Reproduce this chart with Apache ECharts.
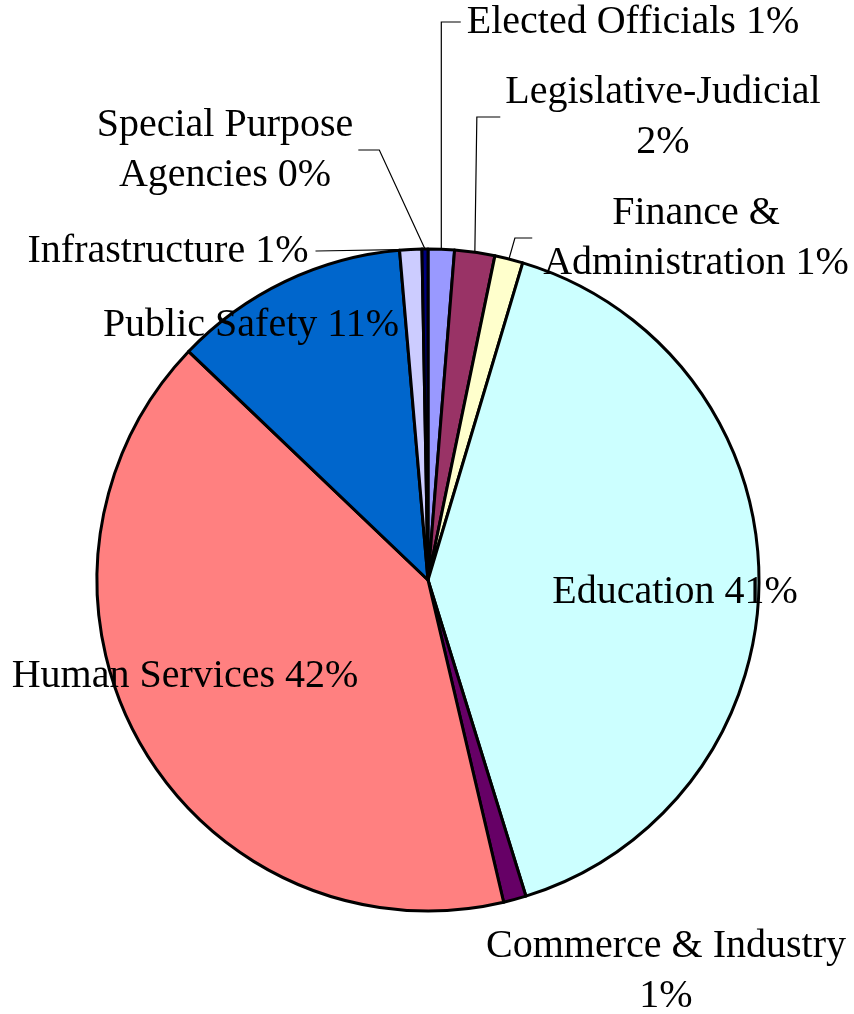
<!DOCTYPE html>
<html>
<head>
<meta charset="utf-8">
<script src="https://cdn.jsdelivr.net/npm/echarts@6/dist/echarts.min.js"></script>
<style>
html,body{margin:0;padding:0;background:#fff;}
#chart{width:854px;height:1014px;}
</style>
</head>
<body>
<div id="chart"></div>
<script>
// ---- data ----
const categories = [
  'Elected Officials', 'Legislative-Judicial', 'Finance &\nAdministration', 'Education',
  'Commerce & Industry', 'Human Services', 'Public Safety', 'Infrastructure',
  'Special Purpose\nAgencies'
];
const shares = [1.28, 1.96, 1.38, 40.6, 1.11, 40.8, 11.5, 1.08, 0.29];
const printedPercents = ['1%', '2%', '1%', '41%', '1%', '42%', '11%', '1%', '0%'];
const labelBreaks = [' ', '\n', ' ', ' ', '\n', ' ', ' ', ' ', ' '];
const colors = ['#9999FF', '#993366', '#FFFFCC', '#CCFFFF', '#660066', '#FF8080', '#0066CC', '#CCCCFF', '#000080'];

// ---- label placement (layout, not data) ----
const labelSpots = [
  {x: 633, y: 22,  line: 'right', elbowDx: 0,  gap: 6},
  {x: 663, y: 117, line: 'right', elbowDx: 2,  gap: 5},
  {x: 696, y: 238, line: 'right', elbowDx: 6,  gap: 11},
  {x: 675, y: 592, line: null},
  {x: 666, y: 971, line: null},
  {x: 185, y: 676, line: null},
  {x: 251, y: 325, line: null},
  {x: 168, y: 251, line: 'flatLeft', gap: 7},
  {x: 225, y: 150, line: 'left', elbowOut: 26, gap: 5}
];

const chart = echarts.init(document.getElementById('chart'), null, {renderer: 'canvas'});

const data = categories.map((c, i) => ({
  name: c,
  value: shares[i],
  itemStyle: {color: colors[i]},
  labelLine: {show: !!labelSpots[i].line}
}));

chart.setOption({
  animation: false,
  backgroundColor: '#ffffff',
  series: [{
    type: 'pie',
    center: [428, 580],
    radius: 331,
    startAngle: 90,
    clockwise: true,
    avoidLabelOverlap: false,
    itemStyle: {borderColor: '#000', borderWidth: 3},
    label: {
      show: true,
      position: 'outside',
      fontFamily: 'Liberation Serif',
      fontSize: 40,
      lineHeight: 50,
      color: '#000',
      align: 'center',
      formatter: p => p.name + labelBreaks[p.dataIndex] + printedPercents[p.dataIndex]
    },
    labelLine: {
      show: true,
      length: 20,
      length2: 20,
      smooth: false,
      lineStyle: {color: '#000', width: 1.2}
    },
    labelLayout: function (p) {
      const s = labelSpots[p.dataIndex];
      const r = p.labelRect;
      const res = {x: s.x, y: s.y, align: 'center', verticalAlign: 'middle'};
      if (s.line && p.labelLinePoints) {
        const p0 = p.labelLinePoints[0];
        const left = s.x - r.width / 2;
        const right = s.x + r.width / 2;
        if (s.line === 'right') {
          res.labelLinePoints = [p0, [p0[0] + s.elbowDx, s.y], [left - s.gap, s.y]];
        } else if (s.line === 'left') {
          res.labelLinePoints = [p0, [right + s.elbowOut, s.y], [right + s.gap, s.y]];
        } else if (s.line === 'flatLeft') {
          res.labelLinePoints = [p0, [right + s.gap + 1, s.y], [right + s.gap, s.y]];
        }
      }
      return res;
    },
    data: data
  }]
});
</script>
</body>
</html>
